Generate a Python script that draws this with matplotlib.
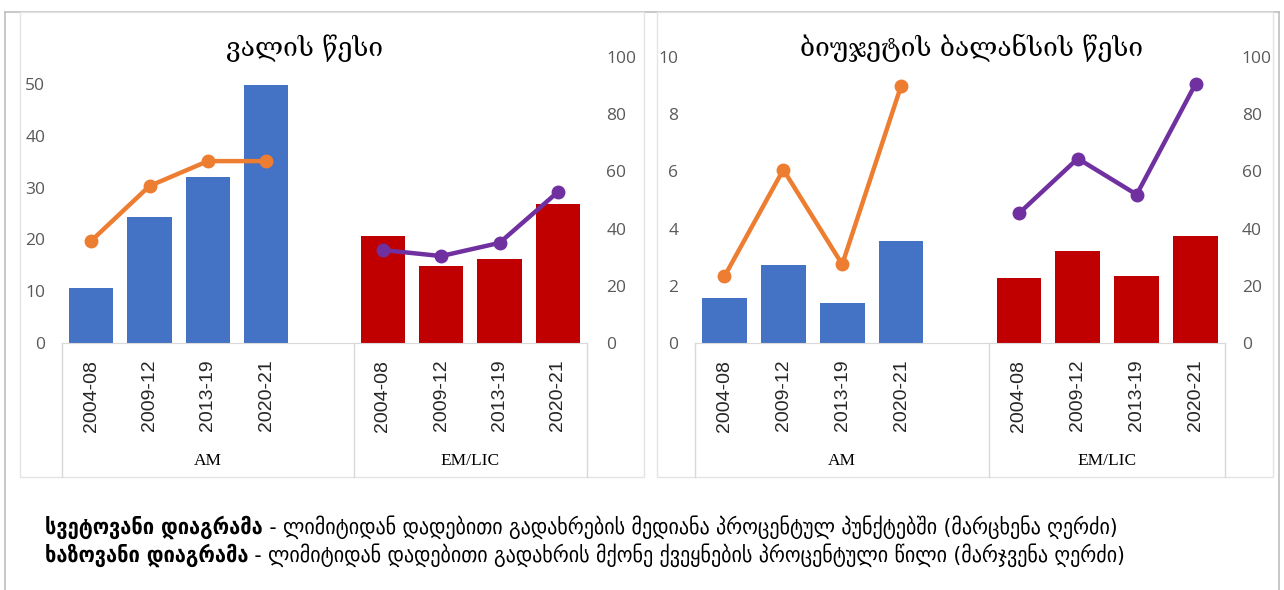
import matplotlib
matplotlib.use("Agg")
import matplotlib.pyplot as plt
from matplotlib.patches import Rectangle
from matplotlib.lines import Line2D

# Data
periods = ["2004-08", "2009-12", "2013-19", "2020-21"]
groups = ["AM", "EM/LIC"]

debt_am_bar = [10.6, 24.3, 32.0, 49.8]
debt_em_bar = [20.7, 14.9, 16.2, 26.8]
debt_am_line = [35.7, 54.9, 63.6, 63.6]
debt_em_line = [32.5, 30.4, 35.0, 52.8]

bal_am_bar = [1.57, 2.72, 1.39, 3.55]
bal_em_bar = [2.26, 3.20, 2.33, 3.73]
bal_am_line = [23.3, 60.6, 27.5, 89.9]
bal_em_line = [45.3, 64.5, 51.9, 90.6]

title_debt = "ვალის წესი"
title_bal = "ბიუჯეტის ბალანსის წესი"

bold1 = "სვეტოვანი დიაგრამა"
rest1 = " - ლიმიტიდან დადებითი გადახრების მედიანა პროცენტულ პუნქტებში (მარცხენა ღერძი)"
bold2 = "ხაზოვანი დიაგრამა"
rest2 = " - ლიმიტიდან დადებითი გადახრის მქონე ქვეყნების პროცენტული წილი (მარჯვენა ღერძი)"

# Colours
BLUE = "#4472C4"
RED = "#C00000"
ORANGE = "#ED7D31"
PURPLE = "#7030A0"
GRID = "#D9D9D9"
TICK = "#595959"

W, H = 1284, 590
fig = plt.figure(figsize=(W / 100, H / 100), dpi=100)
fig.patch.set_facecolor("white")


def fx(px):
    return px / W


def fy(py):
    return 1 - py / H


# outer frames
for xs, ys in [([5, 5], [12, 590]), ([5, 1279], [12, 12]), ([1279, 1279], [12, 590])]:
    fig.add_artist(Line2D([fx(v) for v in xs], [fy(v) for v in ys],
                          color="#BFBFBF", lw=1.2, zorder=-1))
for x0, x1 in [(20, 644), (657, 1273)]:
    fig.add_artist(Rectangle((fx(x0), fy(477)), fx(x1) - fx(x0), fy(12) - fy(477),
                             transform=fig.transFigure, fill=False,
                             edgecolor="#E4E4E4", lw=1.0, zorder=-1))


def panel(left_px, right_px, title, title_x, ymax, yticks, rpad,
          am_bar, em_bar, am_line, em_line):
    top, bottom = 57, 343
    ax = fig.add_axes([fx(left_px), fy(bottom), fx(right_px) - fx(left_px),
                       fy(top) - fy(bottom)])
    xa = [0, 1, 2, 3]
    xe = [5, 6, 7, 8]
    ax.bar(xa, am_bar, width=0.76, color=BLUE, zorder=2)
    ax.bar(xe, em_bar, width=0.76, color=RED, zorder=2)
    ax.set_xlim(-0.5, 8.5)
    ax.set_ylim(0, ymax)
    ax.set_yticks(yticks)
    ax.tick_params(axis="y", length=0, pad=12, labelsize=12.5, labelcolor=TICK)
    for lab in ax.get_yticklabels():
        lab.set_family("Open Sans")
    ax.set_xticks(xa + xe)
    ax.set_xticklabels(periods + periods, rotation=90, family="Liberation Sans",
                       fontsize=14, color="#262626")
    ax.tick_params(axis="x", length=0, pad=12)
    for s in ["top", "left", "right"]:
        ax.spines[s].set_visible(False)
    ax.spines["bottom"].set_color(GRID)

    axr = ax.twinx()
    axr.plot(xa, am_line, color=ORANGE, lw=3.2, marker="o", ms=9, zorder=3)
    axr.plot(xe, em_line, color=PURPLE, lw=3.2, marker="o", ms=9, zorder=3)
    axr.set_ylim(0, 100)
    axr.set_yticks([0, 20, 40, 60, 80, 100])
    axr.tick_params(axis="y", length=0, pad=rpad, labelsize=12.5, labelcolor=TICK)
    for lab in axr.get_yticklabels():
        lab.set_family("Open Sans")
    for s in axr.spines.values():
        s.set_visible(False)

    # category box under axis
    depth = -(477 - bottom) / (bottom - top)
    for xv in [-0.5, 4.5, 8.5]:
        ax.axvline(xv, ymin=depth, ymax=0, color=GRID, lw=1.0, clip_on=False)
    ylab = -(461 - bottom) / (bottom - top) * ymax
    ax.text(2.0, ylab, groups[0], ha="center", va="center",
            family="Liberation Serif", fontsize=12.5)
    ax.text(6.5, ylab, groups[1], ha="center", va="center",
            family="Liberation Serif", fontsize=12.5)

    fig.text(fx(title_x), fy(48), title, ha="center", va="center",
             family=["DejaVu Serif", "DejaVu Sans"], fontsize=19)
    return ax


panel(62, 587, title_debt, 305, 55.2, [0, 10, 20, 30, 40, 50], 14,
      debt_am_bar, debt_em_bar, debt_am_line, debt_em_line)
panel(695, 1225, title_bal, 972, 10.0, [0, 2, 4, 6, 8, 10], 12,
      bal_am_bar, bal_em_bar, bal_am_line, bal_em_line)

# caption
fig.canvas.draw()
renderer = fig.canvas.get_renderer()
for yline, b, r in [(527, bold1, rest1), (555, bold2, rest2)]:
    tb = fig.text(fx(45), fy(yline), b, ha="left", va="center", fontsize=16,
                  fontweight="bold", fontstretch="condensed", family="DejaVu Sans")
    bb = tb.get_window_extent(renderer)
    fig.text(bb.x1 / W, fy(yline), r, ha="left", va="center", fontsize=16,
             fontstretch="condensed", family="DejaVu Sans")

fig.savefig("out.png", dpi=100)
